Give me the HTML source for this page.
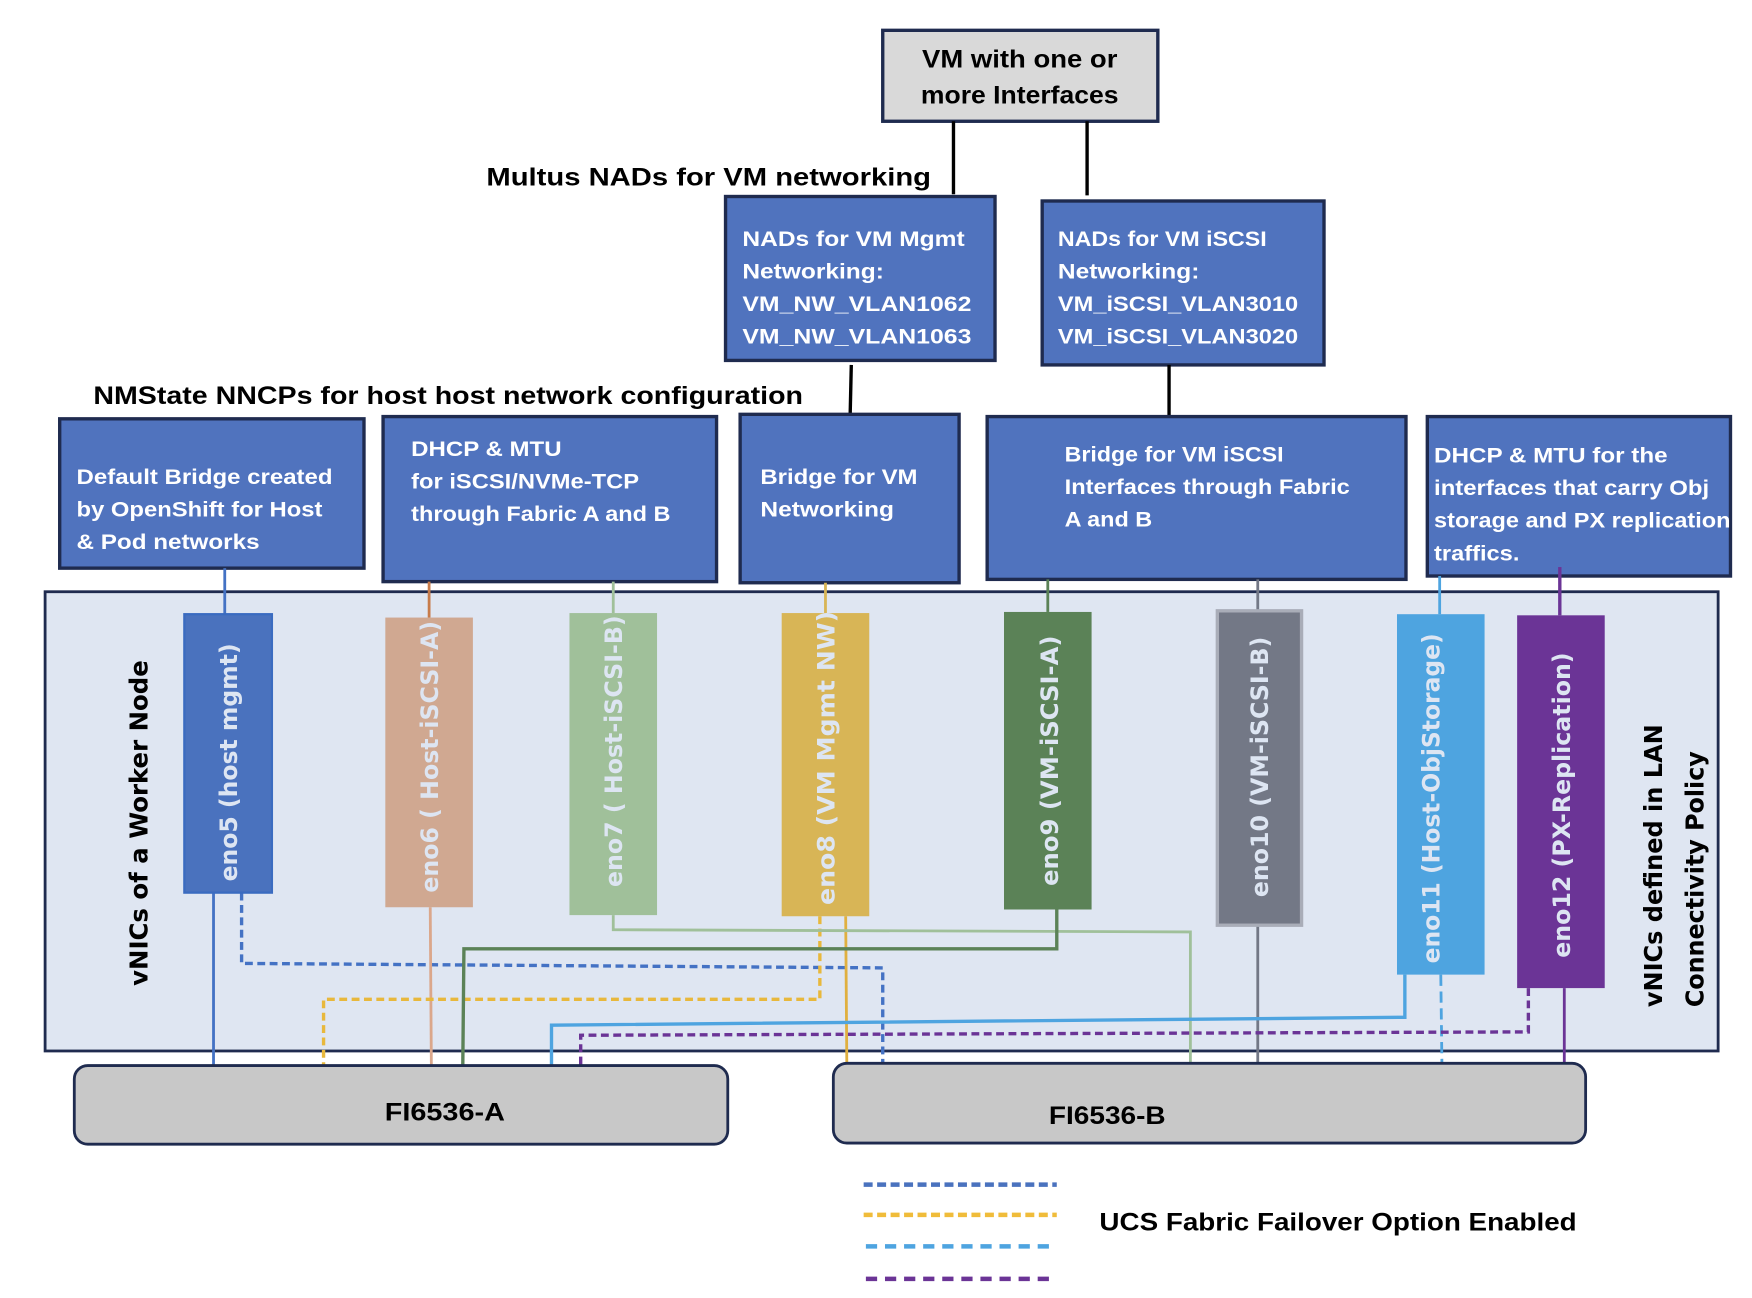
<!DOCTYPE html>
<html><head><meta charset="utf-8"><style>html,body{margin:0;padding:0;background:#fff}svg{display:block}</style></head>
<body>
<svg xmlns="http://www.w3.org/2000/svg" width="1752" height="1298" viewBox="0 0 1560 1156">
<style>
.h{font-family:"Liberation Sans",sans-serif;font-weight:bold;font-size:22px;fill:#000}
.b{font-family:"Liberation Sans",sans-serif;font-weight:bold;font-size:19px;fill:#fff}
.v{font-family:"DejaVu Sans",sans-serif;font-weight:bold;font-size:21px;fill:#dde5f2}
.w{font-family:"DejaVu Sans",sans-serif;font-weight:bold;font-size:22px;fill:#000}
.box{fill:#5073be;stroke:#1f2b4f;stroke-width:3}
</style>
<rect width="1560" height="1156" fill="#fff"/>
<!-- VM box -->
<rect x="786" y="27" width="245" height="81" fill="#d9d9d9" stroke="#1f2b4f" stroke-width="3"/>
<text class="h" x="908" y="60" text-anchor="middle" textLength="174" lengthAdjust="spacingAndGlyphs">VM with one or</text>
<text class="h" x="908" y="92" text-anchor="middle" textLength="176" lengthAdjust="spacingAndGlyphs">more Interfaces</text>
<line x1="849" y1="108" x2="849" y2="173" stroke="#000" stroke-width="3"/>
<line x1="968" y1="108" x2="968" y2="174" stroke="#000" stroke-width="3"/>
<text class="h" x="433" y="165" textLength="396" lengthAdjust="spacingAndGlyphs">Multus NADs for VM networking</text>
<!-- NAD boxes -->
<rect class="box" x="646" y="175" width="240" height="146"/>
<text class="b" x="661" y="219" textLength="198" lengthAdjust="spacingAndGlyphs">NADs for VM Mgmt</text>
<text class="b" x="661" y="248" textLength="126" lengthAdjust="spacingAndGlyphs">Networking:</text>
<text class="b" x="661" y="277" textLength="204" lengthAdjust="spacingAndGlyphs">VM_NW_VLAN1062</text>
<text class="b" x="661" y="306" textLength="204" lengthAdjust="spacingAndGlyphs">VM_NW_VLAN1063</text>
<rect class="box" x="928" y="179" width="251" height="146"/>
<text class="b" x="942" y="219" textLength="186" lengthAdjust="spacingAndGlyphs">NADs for VM iSCSI</text>
<text class="b" x="942" y="248" textLength="126" lengthAdjust="spacingAndGlyphs">Networking:</text>
<text class="b" x="942" y="277" textLength="214" lengthAdjust="spacingAndGlyphs">VM_iSCSI_VLAN3010</text>
<text class="b" x="942" y="306" textLength="214" lengthAdjust="spacingAndGlyphs">VM_iSCSI_VLAN3020</text>
<line x1="758" y1="325" x2="757" y2="369" stroke="#000" stroke-width="3"/>
<line x1="1041" y1="325" x2="1041" y2="371" stroke="#000" stroke-width="3"/>
<text class="h" x="83" y="360" textLength="632" lengthAdjust="spacingAndGlyphs">NMState NNCPs for host host network configuration</text>
<!-- NNCP boxes -->
<rect class="box" x="53" y="373" width="271" height="133"/>
<text class="b" x="68" y="431" textLength="228" lengthAdjust="spacingAndGlyphs">Default Bridge created</text>
<text class="b" x="68" y="460" textLength="219" lengthAdjust="spacingAndGlyphs">by OpenShift for Host</text>
<text class="b" x="68" y="489" textLength="163" lengthAdjust="spacingAndGlyphs">&amp; Pod networks</text>
<rect class="box" x="341" y="371" width="297" height="147"/>
<text class="b" x="366" y="406" textLength="134" lengthAdjust="spacingAndGlyphs">DHCP &amp; MTU</text>
<text class="b" x="366" y="435" textLength="203" lengthAdjust="spacingAndGlyphs">for iSCSI/NVMe-TCP</text>
<text class="b" x="366" y="464" textLength="231" lengthAdjust="spacingAndGlyphs">through Fabric A and B</text>
<rect class="box" x="659" y="369" width="195" height="150"/>
<text class="b" x="677" y="431" textLength="140" lengthAdjust="spacingAndGlyphs">Bridge for VM</text>
<text class="b" x="677" y="460" textLength="119" lengthAdjust="spacingAndGlyphs">Networking</text>
<rect class="box" x="879" y="371" width="373" height="145"/>
<text class="b" x="948" y="411" textLength="195" lengthAdjust="spacingAndGlyphs">Bridge for VM iSCSI</text>
<text class="b" x="948" y="440" textLength="254" lengthAdjust="spacingAndGlyphs">Interfaces through Fabric</text>
<text class="b" x="948" y="469" textLength="78" lengthAdjust="spacingAndGlyphs">A and B</text>
<rect class="box" x="1271" y="371" width="270" height="142"/>
<text class="b" x="1277" y="412" textLength="208" lengthAdjust="spacingAndGlyphs">DHCP &amp; MTU for the</text>
<text class="b" x="1277" y="441" textLength="245" lengthAdjust="spacingAndGlyphs">interfaces that carry Obj</text>
<text class="b" x="1277" y="470" textLength="264" lengthAdjust="spacingAndGlyphs">storage and PX replication</text>
<text class="b" x="1277" y="499" textLength="76" lengthAdjust="spacingAndGlyphs">traffics.</text>
<!-- container -->
<rect x="40" y="527" width="1490" height="409" fill="#dfe6f2" stroke="#1f2b4f" stroke-width="2.5"/>
<!-- top connectors -->
<g stroke-width="2.5">
<line x1="200" y1="506" x2="200" y2="547" stroke="#4472c4"/>
<line x1="382" y1="518" x2="382" y2="550" stroke="#c77b4a"/>
<line x1="546" y1="518" x2="546" y2="546" stroke="#a0c09a"/>
<line x1="735" y1="519" x2="735" y2="546" stroke="#d8b556"/>
<line x1="933" y1="516" x2="933" y2="545" stroke="#5b8257"/>
<line x1="1120" y1="516" x2="1120" y2="543" stroke="#737886"/>
<line x1="1282" y1="513" x2="1282" y2="547" stroke="#4ea4e0"/>
<line x1="1389" y1="505" x2="1389" y2="548" stroke="#6b3496" stroke-width="3"/>
</g>
<!-- bottom connections -->
<g fill="none" stroke-width="2.5">
<line x1="190" y1="795" x2="190" y2="949" stroke="#4472c4"/>
<polyline points="215,795 215,858 786,862 786,947" stroke="#4472c4" stroke-dasharray="7,4" stroke-width="3"/>
<line x1="383" y1="808" x2="384" y2="949" stroke="#dba78b"/>
<polyline points="730,816 730,890 288,890 288,949" stroke="#e8b83c" stroke-dasharray="7,4" stroke-width="3"/>
<line x1="753" y1="816" x2="754" y2="947" stroke="#e0b040"/>
<polyline points="546,815 546,828 1060,830 1060,947" stroke="#a0c09a"/>
<polyline points="941,810 941,845 413,845 412,949" stroke="#5b8257" stroke-width="3"/>
<line x1="1120" y1="824" x2="1120" y2="947" stroke="#737886"/>
<polyline points="1251,868 1251,906 491,913 491,949" stroke="#4ea4e0" stroke-width="3"/>
<line x1="1283" y1="868" x2="1284" y2="947" stroke="#4ea4e0" stroke-dasharray="10,5"/>
<polyline points="1361,880 1361,919 517,922 517,949" stroke="#6b3496" stroke-dasharray="7,4" stroke-width="3"/>
<line x1="1393" y1="880" x2="1393" y2="947" stroke="#6b3496"/>
</g>
<!-- vNIC bars -->
<rect x="164" y="547" width="78" height="248" fill="#4a72be" stroke="#3a6bc0" stroke-width="2"/>
<rect x="343" y="550" width="78" height="258" fill="#d0a891"/>
<rect x="507" y="546" width="78" height="269" fill="#a0c09a"/>
<rect x="696" y="546" width="78" height="270" fill="#d8b556"/>
<rect x="894" y="545" width="78" height="265" fill="#5b8257"/>
<rect x="1084" y="544" width="75" height="280" fill="#737886" stroke="#a9adb8" stroke-width="3"/>
<rect x="1244" y="547" width="78" height="321" fill="#4ea4e0"/>
<rect x="1351" y="548" width="78" height="332" fill="#6b3496"/>
<text class="v" transform="translate(211,785) rotate(-90)" textLength="212" lengthAdjust="spacingAndGlyphs">eno5 (host mgmt)</text>
<text class="v" transform="translate(390,795) rotate(-90)" textLength="242" lengthAdjust="spacingAndGlyphs">eno6 ( Host-iSCSI-A)</text>
<text class="v" transform="translate(554,790) rotate(-90)" textLength="242" lengthAdjust="spacingAndGlyphs">eno7 ( Host-iSCSI-B)</text>
<text class="v" transform="translate(743,806) rotate(-90)" textLength="262" lengthAdjust="spacingAndGlyphs">eno8 (VM Mgmt NW)</text>
<text class="v" transform="translate(942,789) rotate(-90)" textLength="223" lengthAdjust="spacingAndGlyphs">eno9 (VM-iSCSI-A)</text>
<text class="v" transform="translate(1129,799) rotate(-90)" textLength="232" lengthAdjust="spacingAndGlyphs">eno10 (VM-iSCSI-B)</text>
<text class="v" transform="translate(1282,858) rotate(-90)" textLength="294" lengthAdjust="spacingAndGlyphs">eno11 (Host-ObjStorage)</text>
<text class="v" transform="translate(1398,853) rotate(-90)" textLength="272" lengthAdjust="spacingAndGlyphs">eno12 (PX-Replication)</text>
<text class="w" transform="translate(131,878) rotate(-90)" textLength="290" lengthAdjust="spacingAndGlyphs">vNICs of a Worker Node</text>
<text class="w" transform="translate(1480,897) rotate(-90)" textLength="252" lengthAdjust="spacingAndGlyphs">vNICs defined in LAN</text>
<text class="w" transform="translate(1517,897) rotate(-90)" textLength="228" lengthAdjust="spacingAndGlyphs">Connectivity Policy</text>
<!-- FI boxes -->
<rect x="66" y="949" width="582" height="70" rx="12" fill="#c8c8c8" stroke="#1f2b4f" stroke-width="2.5"/>
<text class="h" x="396" y="998" text-anchor="middle" textLength="107" lengthAdjust="spacingAndGlyphs">FI6536-A</text>
<rect x="742" y="947" width="670" height="71" rx="12" fill="#c8c8c8" stroke="#1f2b4f" stroke-width="2.5"/>
<text class="h" x="986" y="1001" text-anchor="middle" textLength="104" lengthAdjust="spacingAndGlyphs">FI6536-B</text>
<!-- legend -->
<g stroke-width="4">
<line x1="769" y1="1055" x2="941" y2="1055" stroke="#4a72be" stroke-dasharray="8,4"/>
<line x1="769" y1="1082" x2="941" y2="1082" stroke="#f0bc3a" stroke-dasharray="8,4"/>
<line x1="771" y1="1110" x2="937" y2="1110" stroke="#4ea4e0" stroke-dasharray="10,7"/>
<line x1="771" y1="1139" x2="937" y2="1139" stroke="#6b3496" stroke-dasharray="10,7"/>
</g>
<text class="h" x="979" y="1096" textLength="425" lengthAdjust="spacingAndGlyphs">UCS Fabric Failover Option Enabled</text>
</svg>
</body></html>
